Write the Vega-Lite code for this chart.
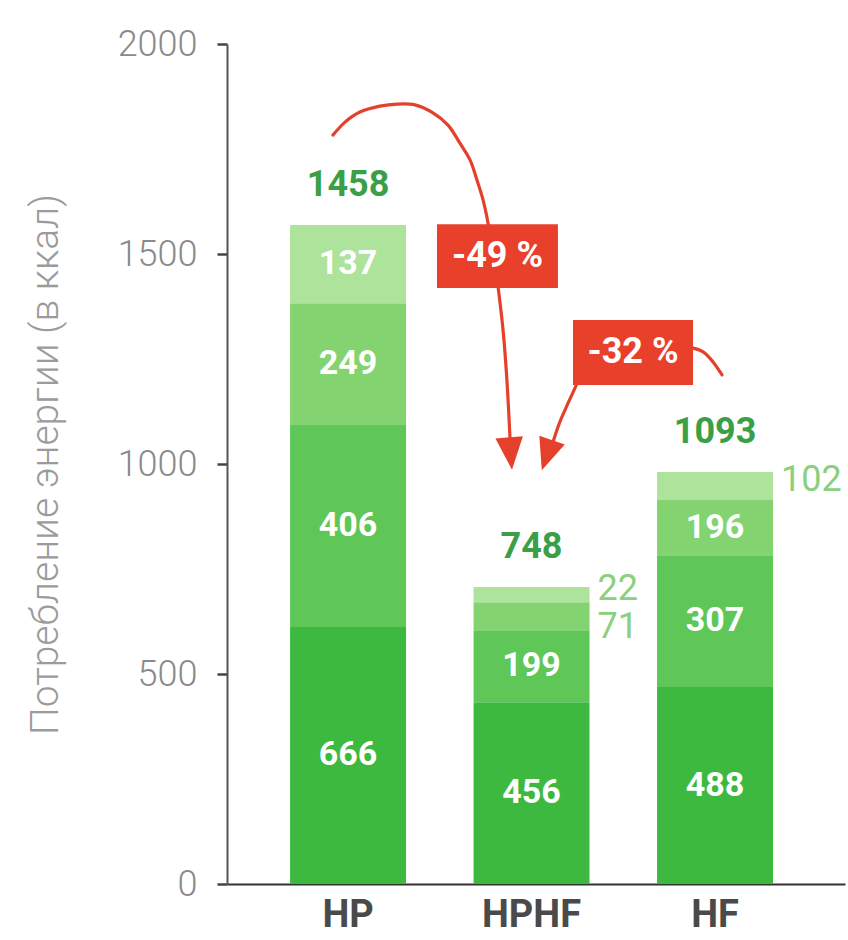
{
  "$schema": "https://vega.github.io/schema/vega-lite/v6.json",
  "width": 618,
  "height": 840,
  "autosize": {"type": "none"},
  "padding": {"left": 227, "top": 44, "right": 3, "bottom": 56},
  "background": "white",
  "config": {"view": {"stroke": null}, "font": "Roboto"},
  "datasets": {
    "segments": [
      {"diet": "HP", "level": 1, "kcal": 666, "bar": 612},
      {"diet": "HP", "level": 2, "kcal": 406, "bar": 481},
      {"diet": "HP", "level": 3, "kcal": 249, "bar": 290},
      {"diet": "HP", "level": 4, "kcal": 137, "bar": 186},
      {"diet": "HPHF", "level": 1, "kcal": 456, "bar": 433},
      {"diet": "HPHF", "level": 2, "kcal": 199, "bar": 171},
      {"diet": "HPHF", "level": 3, "kcal": 71, "bar": 67},
      {"diet": "HPHF", "level": 4, "kcal": 22, "bar": 36},
      {"diet": "HF", "level": 1, "kcal": 488, "bar": 469},
      {"diet": "HF", "level": 2, "kcal": 307, "bar": 314},
      {"diet": "HF", "level": 3, "kcal": 196, "bar": 131},
      {"diet": "HF", "level": 4, "kcal": 102, "bar": 67}
    ],
    "arrows": [
      {"arrow": "a1", "seq": 1, "x": -0.082, "kcal": 1783},
      {"arrow": "a1", "seq": 2, "x": -0.016, "kcal": 1814},
      {"arrow": "a1", "seq": 3, "x": 0.065, "kcal": 1838},
      {"arrow": "a1", "seq": 4, "x": 0.174, "kcal": 1852},
      {"arrow": "a1", "seq": 5, "x": 0.267, "kcal": 1857},
      {"arrow": "a1", "seq": 6, "x": 0.365, "kcal": 1855},
      {"arrow": "a1", "seq": 7, "x": 0.463, "kcal": 1836},
      {"arrow": "a1", "seq": 8, "x": 0.545, "kcal": 1807},
      {"arrow": "a1", "seq": 9, "x": 0.61, "kcal": 1764},
      {"arrow": "a1", "seq": 10, "x": 0.665, "kcal": 1724},
      {"arrow": "a1", "seq": 11, "x": 0.703, "kcal": 1676},
      {"arrow": "a1", "seq": 12, "x": 0.736, "kcal": 1629},
      {"arrow": "a1", "seq": 13, "x": 0.757, "kcal": 1588},
      {"arrow": "a1", "seq": 14, "x": 0.768, "kcal": 1560},
      {"arrow": "a2", "seq": 1, "x": 0.817, "kcal": 1425},
      {"arrow": "a2", "seq": 2, "x": 0.845, "kcal": 1319},
      {"arrow": "a2", "seq": 3, "x": 0.866, "kcal": 1200},
      {"arrow": "a2", "seq": 4, "x": 0.883, "kcal": 1060},
      {"arrow": "b1", "seq": 1, "x": 1.87, "kcal": 1277},
      {"arrow": "b1", "seq": 2, "x": 1.935, "kcal": 1267},
      {"arrow": "b1", "seq": 3, "x": 1.989, "kcal": 1243},
      {"arrow": "b1", "seq": 4, "x": 2.038, "kcal": 1212},
      {"arrow": "b2", "seq": 1, "x": 1.248, "kcal": 1192},
      {"arrow": "b2", "seq": 2, "x": 1.215, "kcal": 1160},
      {"arrow": "b2", "seq": 3, "x": 1.183, "kcal": 1129},
      {"arrow": "b2", "seq": 4, "x": 1.15, "kcal": 1095},
      {"arrow": "b2", "seq": 5, "x": 1.117, "kcal": 1052}
    ],
    "heads": [
      {"arrow": "a", "x": 0.886, "kcal": 1025},
      {"arrow": "b", "x": 1.084, "kcal": 1021}
    ],
    "boxes": [
      {"label": "-49 %", "x1": 0.485, "x2": 1.144, "y1": 1571, "y2": 1419, "xc": 0.815, "yc": 1495},
      {"label": "-32 %", "x1": 1.226, "x2": 1.88, "y1": 1343, "y2": 1188, "xc": 1.553, "yc": 1267}
    ]
  },
  "layer": [
    {
      "data": {"name": "segments"},
      "encoding": {
        "x": {
          "field": "diet",
          "type": "nominal",
          "sort": ["HP", "HPHF", "HF"],
          "scale": {"paddingInner": 0.368, "paddingOuter": 0.368, "align": 0.467},
          "axis": {
            "title": null,
            "labelAngle": 0,
            "labelFontSize": 38,
            "labelFontWeight": "bold",
            "labelColor": "#4a4a4a",
            "labelPadding": 12,
            "ticks": false,
            "domainColor": "#333333",
            "domainWidth": 2
          }
        }
      },
      "layer": [
        {
          "mark": {"type": "bar"},
          "encoding": {
            "y": {
              "field": "bar",
              "type": "quantitative",
              "stack": "zero",
              "scale": {"domain": [0, 2000], "nice": false},
              "axis": {
                "values": [0, 500, 1000, 1500, 2000],
                "format": "d",
                "grid": false,
                "title": "Потребление энергии (в ккал)",
                "titleFontSize": 39,
                "titleFontWeight": 300,
                "titleColor": "#9b9b9b",
                "titlePadding": 52,
                "labelFontSize": 36,
                "labelFontWeight": 300,
                "labelColor": "#8a8a8a",
                "labelPadding": 20,
                "ticks": true,
                "tickSize": 10,
                "tickWidth": 2.5,
                "tickColor": "#444444",
                "domainColor": "#555555",
                "domainWidth": 2
              }
            },
            "color": {
              "field": "level",
              "type": "ordinal",
              "scale": {"domain": [1, 2, 3, 4], "range": ["#3eb940", "#5fc658", "#83d470", "#aee39c"]},
              "legend": null
            },
            "order": {"field": "level", "type": "ordinal"}
          }
        },
        {
          "transform": [
            {"stack": "bar", "groupby": ["diet"], "sort": [{"field": "level"}], "as": ["y0", "y1"]},
            {"calculate": "(datum.y0 + datum.y1) / 2", "as": "mid"},
            {"filter": "datum.kcal >= 110"}
          ],
          "mark": {"type": "text", "color": "white", "fontSize": 34, "fontWeight": "bold", "baseline": "middle", "align": "center"},
          "encoding": {
            "y": {"field": "mid", "type": "quantitative"},
            "text": {"field": "kcal", "type": "quantitative"}
          }
        },
        {
          "transform": [
            {"stack": "bar", "groupby": ["diet"], "sort": [{"field": "level"}], "as": ["y0", "y1"]},
            {"calculate": "(datum.y0 + datum.y1) / 2", "as": "mid"},
            {"filter": "datum.kcal < 110 && datum.level == 4"}
          ],
          "mark": {"type": "text", "color": "#8ccf7e", "fontSize": 36, "baseline": "middle", "align": "left", "dx": 66, "dy": -6},
          "encoding": {
            "y": {"field": "mid", "type": "quantitative"},
            "text": {"field": "kcal", "type": "quantitative"}
          }
        },
        {
          "transform": [
            {"stack": "bar", "groupby": ["diet"], "sort": [{"field": "level"}], "as": ["y0", "y1"]},
            {"calculate": "(datum.y0 + datum.y1) / 2", "as": "mid"},
            {"filter": "datum.kcal < 110 && datum.level == 3"}
          ],
          "mark": {"type": "text", "color": "#8ccf7e", "fontSize": 36, "baseline": "middle", "align": "left", "dx": 66, "dy": 11},
          "encoding": {
            "y": {"field": "mid", "type": "quantitative"},
            "text": {"field": "kcal", "type": "quantitative"}
          }
        },
        {
          "transform": [
            {"aggregate": [{"op": "sum", "field": "bar", "as": "top"}, {"op": "sum", "field": "kcal", "as": "total"}], "groupby": ["diet"]}
          ],
          "mark": {"type": "text", "color": "#3a9f47", "fontSize": 36, "fontWeight": "bold", "baseline": "middle", "align": "center", "dy": -40},
          "encoding": {
            "y": {"field": "top", "type": "quantitative"},
            "text": {"field": "total", "type": "quantitative"}
          }
        }
      ]
    },
    {
      "layer": [
        {
          "data": {"name": "arrows"},
          "mark": {"type": "line", "color": "#e5402c", "strokeWidth": 3.2, "interpolate": "catmull-rom", "strokeCap": "round"},
          "encoding": {
            "x": {"field": "x", "type": "quantitative", "scale": {"domain": [-0.659, 2.708], "nice": false, "zero": false}, "axis": null},
            "y": {"field": "kcal", "type": "quantitative"},
            "detail": {"field": "arrow", "type": "nominal"},
            "order": {"field": "seq", "type": "quantitative"}
          }
        },
        {
          "data": {"name": "heads"},
          "transform": [{"filter": "datum.arrow == 'a'"}],
          "mark": {"type": "point", "shape": "M-0.85,-1L0.85,-1L0,1Z", "filled": true, "color": "#e5402c", "opacity": 1, "size": 1050, "angle": -5, "strokeWidth": 0},
          "encoding": {
            "x": {"field": "x", "type": "quantitative", "scale": {"domain": [-0.659, 2.708], "nice": false, "zero": false}, "axis": null},
            "y": {"field": "kcal", "type": "quantitative"}
          }
        },
        {
          "data": {"name": "heads"},
          "transform": [{"filter": "datum.arrow == 'b'"}],
          "mark": {"type": "point", "shape": "M-0.85,-1L0.85,-1L0,1Z", "filled": true, "color": "#e5402c", "opacity": 1, "size": 1000, "angle": 19, "strokeWidth": 0},
          "encoding": {
            "x": {"field": "x", "type": "quantitative", "scale": {"domain": [-0.659, 2.708], "nice": false, "zero": false}, "axis": null},
            "y": {"field": "kcal", "type": "quantitative"}
          }
        },
        {
          "data": {"name": "boxes"},
          "mark": {"type": "rect", "color": "#e8402b"},
          "encoding": {
            "x": {"field": "x1", "type": "quantitative", "scale": {"domain": [-0.659, 2.708], "nice": false, "zero": false}, "axis": null},
            "x2": {"field": "x2"},
            "y": {"field": "y1", "type": "quantitative"},
            "y2": {"field": "y2"}
          }
        },
        {
          "data": {"name": "boxes"},
          "mark": {"type": "text", "color": "white", "fontSize": 36, "fontWeight": "bold", "baseline": "middle", "align": "center"},
          "encoding": {
            "x": {"field": "xc", "type": "quantitative", "scale": {"domain": [-0.659, 2.708], "nice": false, "zero": false}, "axis": null},
            "y": {"field": "yc", "type": "quantitative"},
            "text": {"field": "label", "type": "nominal"}
          }
        }
      ]
    }
  ],
  "resolve": {"scale": {"x": "independent"}}
}
